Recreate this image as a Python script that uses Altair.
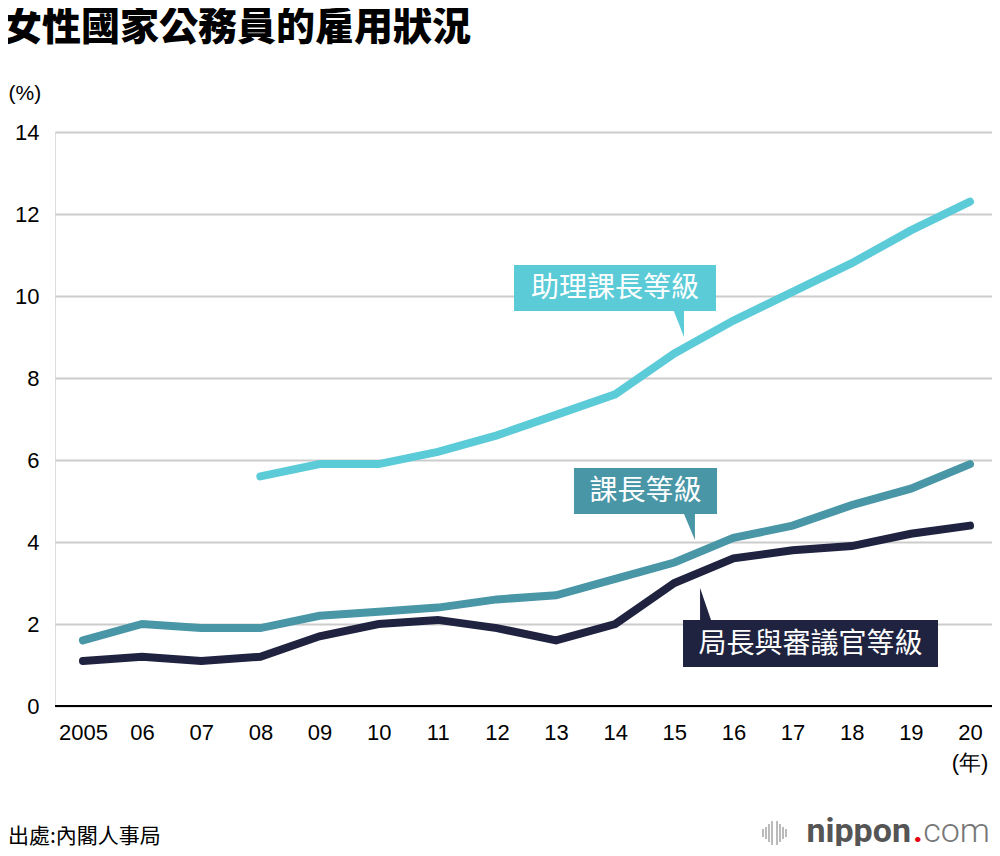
import altair as alt
import pandas as pd

# ---------------- data ----------------
years = list(range(2005, 2021))
tick_labels = ["2005", "06", "07", "08", "09", "10", "11", "12", "13", "14",
               "15", "16", "17", "18", "19", "20"]
assistant = [None, None, None, 5.6, 5.9, 5.9, 6.2, 6.6, 7.1, 7.6, 8.6, 9.4, 10.1, 10.8, 11.6, 12.3]
section = [1.6, 2.0, 1.9, 1.9, 2.2, 2.3, 2.4, 2.6, 2.7, 3.1, 3.5, 4.1, 4.4, 4.9, 5.3, 5.9]
director = [1.1, 1.2, 1.1, 1.2, 1.7, 2.0, 2.1, 1.9, 1.6, 2.0, 3.0, 3.6, 3.8, 3.9, 4.2, 4.4]
series_names = ["助理課長等級", "課長等級", "局長與審議官等級"]
series_colors = ["#5BCBD8", "#4896A6", "#1F2340"]
y_ticks = [0, 2, 4, 6, 8, 10, 12, 14]

title_text = "女性國家公務員的雇用狀況"
unit_text = "(%)"
year_unit = "(年)"
source_text = "出處:內閣人事局"

rows = []
for name, vals in zip(series_names, [assistant, section, director]):
    for yr, v in zip(years, vals):
        if v is not None:
            rows.append({"year": yr, "value": v, "series": name})
df = pd.DataFrame(rows)

W, H = 937, 574
CJK = "Noto Sans CJK TC"
LAT = "Liberation Sans"

x_scale = alt.Scale(domain=[2004.527, 2020.372], nice=False, zero=False)
y_scale = alt.Scale(domain=[0, 14], nice=False)

label_expr = "[" + ",".join("'%s'" % t for t in tick_labels) + "][datum.value - 2005]"

lines = alt.Chart(df).mark_line(strokeWidth=8, strokeCap="round").encode(
    x=alt.X("year:Q", scale=x_scale,
            axis=alt.Axis(values=years, labelExpr=label_expr, grid=False, domain=False,
                          ticks=False, labelPadding=16, labelFontSize=22, labelColor="#000",
                          labelFont=LAT, labelFlush=False, title=None)),
    y=alt.Y("value:Q", scale=y_scale,
            axis=alt.Axis(values=y_ticks, grid=True, gridColor="#cccccc", gridWidth=2,
                          domain=False, ticks=False, labelPadding=16, labelFontSize=22,
                          labelColor="#000", labelFont=LAT,
                          title=unit_text, titleAngle=0, titleX=-47, titleY=-39,
                          titleAlign="left", titleBaseline="middle", titleFontSize=21,
                          titleFontWeight="normal", titleFont=LAT, titleColor="#000")),
    color=alt.Color("series:N", scale=alt.Scale(domain=series_names, range=series_colors),
                    legend=None),
    detail="series:N",
)

zero = alt.Chart(pd.DataFrame({"v": [0]})).mark_rule(color="#000", strokeWidth=2).encode(
    y=alt.Y("v:Q", scale=y_scale)
)

# label boxes (annotation placement, in data units)
boxes = pd.DataFrame({
    "label": series_names,
    "color": series_colors,
    "x1": [2012.289, 2013.303, 2015.147],
    "x2": [2015.705, 2015.722, 2019.459],
    "y1": [10.756, 5.805, 2.098],
    "y2": [9.634, 4.683, 0.951],
    "xc": [2013.997, 2014.512, 2017.303],
    "yc": [10.195, 5.244, 1.524],
})

rects = alt.Chart(boxes).mark_rect().encode(
    x=alt.X("x1:Q", scale=x_scale), x2="x2:Q",
    y=alt.Y("y1:Q", scale=y_scale), y2="y2:Q",
    color=alt.Color("color:N", scale=None),
)
box_text = alt.Chart(boxes).mark_text(color="white", fontSize=28, font=CJK,
                                      align="center", baseline="middle", dy=1).encode(
    x=alt.X("xc:Q", scale=x_scale), y=alt.Y("yc:Q", scale=y_scale), text="label:N"
)

ptrs = pd.DataFrame({
    "xc": [2015.070, 2015.248, 2015.536],
    "yc": [9.329, 4.378, 2.476],
    "shape": ["M-0.41,-1.1L0.41,-1.1L0.41,1Z",
              "M-0.44,-1.1L0.44,-1.1L0.44,1Z",
              "M-0.36,1.1L0.36,1.1L-0.36,-1Z"],
    "size": [729, 729, 1089],
    "color": series_colors,
})
pointers = alt.Chart(ptrs).mark_point(filled=True, opacity=1, strokeWidth=0).encode(
    x=alt.X("xc:Q", scale=x_scale), y=alt.Y("yc:Q", scale=y_scale),
    shape=alt.Shape("shape:N", scale=None),
    size=alt.Size("size:Q", scale=None),
    color=alt.Color("color:N", scale=None),
)

title = alt.Chart(pd.DataFrame({"t": [title_text]})).mark_text(
    fontSize=39, fontWeight=900, font=CJK, align="left", baseline="middle", color="#000"
).encode(x=alt.value(-52), y=alt.value(-104), text="t:N")

year_lab = alt.Chart(pd.DataFrame({"year": [2020], "t": [year_unit]})).mark_text(
    fontSize=22, font=LAT, align="center", baseline="middle", color="#000"
).encode(x=alt.X("year:Q", scale=x_scale), y=alt.value(H + 57), text="t:N")

source = alt.Chart(pd.DataFrame({"t": [source_text]})).mark_text(
    fontSize=21, font=CJK, align="left", baseline="alphabetic", color="#000"
).encode(x=alt.value(-47), y=alt.value(H + 137), text="t:N")

# nippon.com logo
logo_bars = pd.DataFrame({
    "px": [708, 711, 714, 717, 722, 725, 728, 731],
    "h": [8, 12, 18, 24, 24, 18, 12, 8],
})
logo_bars["y1"] = H + 127 - logo_bars["h"] / 2
logo_bars["y2"] = H + 127 + logo_bars["h"] / 2
bars = alt.Chart(logo_bars).mark_rule(color="#aaaaaa", strokeWidth=1.6).encode(
    x=alt.X("px:Q", scale=None), y=alt.Y("y1:Q", scale=None), y2="y2:Q"
)
LOGO_Y = H + 136
logo1 = alt.Chart(pd.DataFrame({"t": ["nippon"]})).mark_text(
    fontSize=34, font="Roboto", fontWeight="bold", align="right", baseline="alphabetic",
    color="#555555"
).encode(x=alt.value(856), y=alt.value(LOGO_Y), text="t:N")
logo2 = alt.Chart(pd.DataFrame({"t": ["."]})).mark_text(
    fontSize=34, font="Roboto", fontWeight="bold", align="center", baseline="alphabetic",
    color="#e60012"
).encode(x=alt.value(863), y=alt.value(LOGO_Y), text="t:N")
logo3 = alt.Chart(pd.DataFrame({"t": ["com"]})).mark_text(
    fontSize=34, font="Roboto", fontWeight=300, align="right", baseline="alphabetic",
    color="#777777"
).encode(x=alt.value(935), y=alt.value(LOGO_Y), text="t:N")

chart = alt.layer(
    zero, lines, rects, pointers, box_text, title, year_lab, source, bars, logo1, logo2, logo3
).properties(
    width=W, height=H,
    autosize=alt.AutoSizeParams(type="none"),
    padding={"left": 47, "top": 124, "right": 0, "bottom": 140},
).configure_view(stroke=None).configure(background="white")

chart.save("out.html", embed_options={"renderer": "svg", "actions": False})
